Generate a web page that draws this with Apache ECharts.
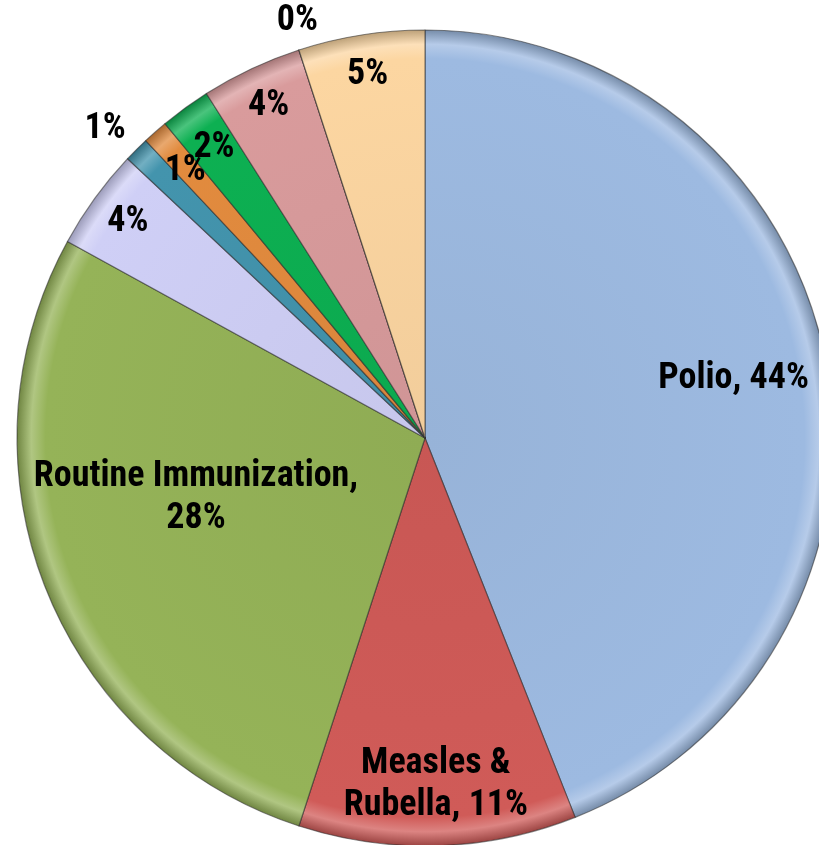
<!DOCTYPE html>
<html>
<head>
<meta charset="utf-8">
<script src="https://cdn.jsdelivr.net/npm/echarts@6/dist/echarts.min.js"></script>
<style>
  html, body { margin: 0; padding: 0; background: #fff; }
  #chart { width: 819px; height: 845px; }
</style>
</head>
<body>
<div id="chart"></div>
<script>
// slices, clockwise from 12 o'clock
var categories = [
  "Polio",
  "Measles & Rubella",
  "Routine Immunization",
  "Other A",
  "Other B",
  "Other C",
  "Other D",
  "Other E",
  "Other F",
  "Other G"
];
var values = [44, 11, 28, 4, 1, 1, 2, 4, 0, 5];
var colors = ["#9dbae1", "#d05b58", "#95b358", "#cfcff6", "#4394ad", "#e28b3e", "#0db052", "#d99b9c", "#bfbfbf", "#fcd6a1"];
// which slices show the category name in the label
var showName = [true, true, true, false, false, false, false, false, false, false];

var cx = 425, cy = 438, R = 408;
// label placement: fraction of radius, angle nudge (deg)
var labelPlace = [
  [0.77, 0], [0.85, 0], [0.58, 7], [0.90, 0], [1.09, -1],
  [0.88, -0.5], [0.88, 0], [0.90, 0], [1.07, 1], [0.90, 0]
];

function lighten(hex, amt) {
  var n = parseInt(hex.slice(1), 16);
  var r = (n >> 16) & 255, g = (n >> 8) & 255, b = n & 255;
  function f(c) { return Math.max(0, Math.min(255, Math.round(amt > 0 ? c + (255 - c) * amt : c * (1 + amt)))); }
  return "rgb(" + f(r) + "," + f(g) + "," + f(b) + ")";
}

var total = values.reduce(function (a, b) { return a + b; }, 0);
var midAngles = [];
var acc = 0;
for (var i = 0; i < values.length; i++) {
  midAngles.push((acc + values[i] / 2) / total * 360);
  acc += values[i];
}

var pieData = [];
for (var k = 0; k < categories.length; k++) {
  pieData.push({
    name: categories[k],
    value: values[k],
    itemStyle: {
      color: {
        type: "radial", x: cx, y: cy, r: R, global: true,
        colorStops: [
          { offset: 0, color: lighten(colors[k], -0.04) },
          { offset: 0.93, color: colors[k] },
          { offset: 0.965, color: lighten(colors[k], 0.25) },
          { offset: 1, color: lighten(colors[k], -0.25) }
        ]
      }
    }
  });
}

var chart = echarts.init(document.getElementById("chart"));
chart.setOption({
  animation: false,
  series: [{
    type: "pie",
    center: [cx, cy],
    radius: [0, R],
    startAngle: 90,
    clockwise: true,
    avoidLabelOverlap: false,
    minShowLabelAngle: 0,
    stillShowZeroSum: true,
    data: pieData,
    itemStyle: {
      borderColor: "rgba(40,40,40,0.55)",
      borderWidth: 1.2
    },
    labelLine: { show: false },
    label: {
      show: true,
      position: "inside",
      color: "#000",
      fontFamily: "'Roboto Condensed', 'Liberation Sans Narrow', 'Arial Narrow', 'Liberation Sans', Arial, sans-serif",
      fontWeight: "bold",
      fontSize: 36,
      lineHeight: 42,
      align: "center",
      formatter: function (p) {
        var pct = Math.round(p.value / total * 100) + "%";
        if (!showName[p.dataIndex]) return pct;
        if (p.name === "Measles & Rubella") return "Measles &\nRubella, " + pct;
        if (p.name === "Routine Immunization") return "Routine Immunization,\n" + pct;
        return p.name + ", " + pct;
      }
    },
    labelLayout: function (p) {
      var pl = labelPlace[p.dataIndex];
      var a = (midAngles[p.dataIndex] + pl[1]) * Math.PI / 180;
      var r = R * pl[0];
      return {
        x: cx + r * Math.sin(a),
        y: cy - r * Math.cos(a),
        align: "center",
        verticalAlign: "middle"
      };
    }
  }]
});
window.addEventListener("resize", function () { chart.resize(); });
</script>
</body>
</html>
